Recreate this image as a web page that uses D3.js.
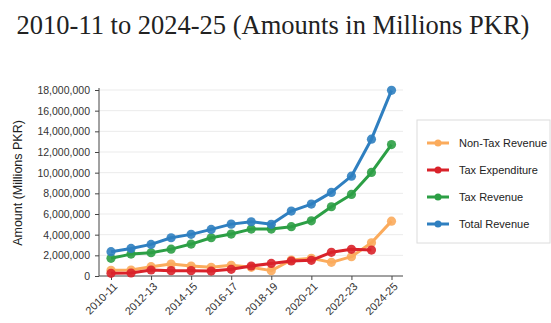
<!DOCTYPE html>
<html>
<head>
<meta charset="utf-8">
<script src="https://cdn.jsdelivr.net/npm/d3@7"></script>
<style>
  body { margin: 0; background: #fff; }
  svg { display: block; }
  .axis text { font-family: Arial, "Liberation Sans", sans-serif; font-size: 10.5px; fill: #333; }
  .axis line { stroke: #444; }
</style>
</head>
<body>
<div id="viz"></div>
<script>
const WIDTH = 551;
const HEIGHT = 323;

// fiscal years
const years = ['2010-11', '2011-12', '2012-13', '2013-14', '2014-15', '2015-16', '2016-17',
  '2017-18', '2018-19', '2019-20', '2020-21', '2021-22', '2022-23', '2023-24', '2024-25'];

// amounts in millions PKR
const nonTaxRevenue = [550000, 580000, 900000, 1160000, 970000, 840000, 1030000,
  840000, 520000, 1550000, 1710000, 1320000, 1870000, 3220000, 5310000];
const taxExpenditure = [260000, 290000, 580000, 520000, 520000, 480000, 650000,
  970000, 1220000, 1450000, 1520000, 2290000, 2580000, 2510000, null];
const taxRevenue = [1710000, 2120000, 2250000, 2600000, 3090000, 3700000, 4060000,
  4540000, 4540000, 4770000, 5340000, 6700000, 7890000, 10020000, 12720000];
const totalRevenue = [2350000, 2670000, 3060000, 3700000, 4030000, 4510000, 5020000,
  5250000, 5000000, 6280000, 6960000, 8090000, 9660000, 13240000, 17970000];

const seriesNames = ['Non-Tax Revenue', 'Tax Expenditure', 'Tax Revenue', 'Total Revenue'];
const seriesValues = [nonTaxRevenue, taxExpenditure, taxRevenue, totalRevenue];
const seriesColors = ['#fbab5c', '#d9222a', '#2c9f45', '#2f7fc0'];

const yTickValues = d3.range(0, 18000001, 2000000);
const xTickLabels = years.filter((d, i) => i % 2 === 0);

const svg = d3.select('#viz').append('svg')
  .attr('width', WIDTH)
  .attr('height', HEIGHT);

// title (second line of a two-line heading)
svg.append('text')
  .attr('x', 273)
  .attr('y', 34)
  .attr('text-anchor', 'middle')
  .style('font-family', '"Liberation Serif", "DejaVu Serif", serif')
  .style('font-size', '26.5px')
  .style('fill', '#222')
  .text('2010-11 to 2024-25 (Amounts in Millions PKR)');

const x = d3.scalePoint()
  .domain(years)
  .range([111, 391.5]);

const y = d3.scaleLinear()
  .domain([0, 18000000])
  .range([276, 90]);

const plotLeft = 99;
const plotRight = 403;

// gridlines
svg.append('g')
  .selectAll('line')
  .data(yTickValues.filter(d => d > 0))
  .join('line')
  .attr('x1', plotLeft)
  .attr('x2', plotRight)
  .attr('y1', d => y(d))
  .attr('y2', d => y(d))
  .attr('stroke', '#ebebeb')
  .attr('stroke-width', 1);

// y axis
const yAxis = svg.append('g')
  .attr('class', 'axis')
  .attr('transform', `translate(${plotLeft},0)`)
  .call(d3.axisLeft(y).tickValues(yTickValues).tickFormat(d3.format(',')).tickSize(4).tickPadding(5));
yAxis.select('.domain').remove();

// x axis
const xAxis = svg.append('g')
  .attr('class', 'axis')
  .attr('transform', `translate(0,${y(0)})`)
  .call(d3.axisBottom(x).tickValues(xTickLabels).tickSize(4));
xAxis.select('.domain').remove();
xAxis.selectAll('text')
  .style('font-size', '11px')
  .attr('text-anchor', 'end')
  .attr('dx', '-0.3em')
  .attr('dy', '0.5em')
  .attr('transform', 'rotate(-45)');

// axis lines
svg.append('line')
  .attr('x1', plotLeft).attr('x2', plotLeft)
  .attr('y1', 88).attr('y2', y(0))
  .attr('stroke', '#444');
svg.append('line')
  .attr('x1', plotLeft).attr('x2', plotRight)
  .attr('y1', y(0)).attr('y2', y(0))
  .attr('stroke', '#444');

// y axis label
svg.append('text')
  .attr('transform', `translate(22,${y(9000000)}) rotate(-90)`)
  .attr('text-anchor', 'middle')
  .style('font-family', 'Arial, "Liberation Sans", sans-serif')
  .style('font-size', '12.5px')
  .style('fill', '#222')
  .text('Amount (Millions PKR)');

// lines and points
const line = d3.line()
  .defined(d => d != null)
  .x((d, i) => x(years[i]))
  .y(d => y(d));

seriesValues.forEach((values, s) => {
  const g = svg.append('g').attr('class', 'series');
  g.append('path')
    .datum(values)
    .attr('fill', 'none')
    .attr('stroke', seriesColors[s])
    .attr('stroke-width', 3)
    .attr('stroke-linejoin', 'round')
    .attr('d', line);
  g.selectAll('circle')
    .data(values.map((v, i) => ({ year: years[i], v })).filter(d => d.v != null))
    .join('circle')
    .attr('cx', d => x(d.year))
    .attr('cy', d => y(d.v))
    .attr('r', 4.6)
    .attr('fill', seriesColors[s])
    .attr('fill-opacity', 0.9);
});

// legend
const legend = svg.append('g').attr('transform', 'translate(417,120)');
legend.append('rect')
  .attr('width', 133)
  .attr('height', 123)
  .attr('fill', '#fff')
  .attr('stroke', '#dcdcdc');
const item = legend.selectAll('g.item')
  .data(seriesNames)
  .join('g')
  .attr('class', 'item')
  .attr('transform', (d, i) => `translate(0,${23 + i * 27})`);
item.append('line')
  .attr('x1', 10).attr('x2', 32)
  .attr('stroke', (d, i) => seriesColors[i])
  .attr('stroke-width', 3);
item.append('circle')
  .attr('cx', 21)
  .attr('r', 3.5)
  .attr('fill', (d, i) => seriesColors[i]);
item.append('text')
  .attr('x', 42)
  .attr('dy', '0.35em')
  .style('font-family', 'Arial, "Liberation Sans", sans-serif')
  .style('font-size', '11px')
  .style('fill', '#222')
  .text(d => d);
</script>
</body>
</html>
